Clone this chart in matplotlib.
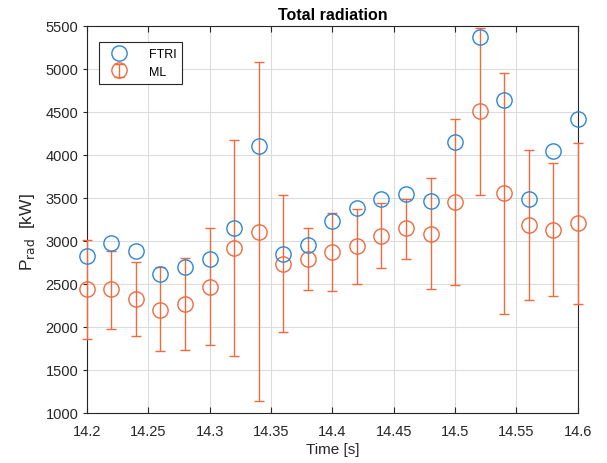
import matplotlib.pyplot as plt
import numpy as np

plt.rcParams['font.family'] = ['Liberation Sans', 'DejaVu Sans']

# time points [s]
t = np.array([14.20, 14.22, 14.24, 14.26, 14.28, 14.30, 14.32, 14.34, 14.36, 14.38, 14.40,
              14.42, 14.44, 14.46, 14.48, 14.50, 14.52, 14.54, 14.56, 14.58, 14.60])

# FTRI radiated power [kW]
p_ftri = np.array([2830, 2975, 2880, 2615, 2695, 2795, 3145, 4100, 2850, 2950, 3230,
                   3385, 3485, 3540, 3460, 4150, 5370, 4640, 3490, 4040, 4415])

# ML prediction [kW] with error bar ends
p_ml = np.array([2445, 2445, 2330, 2200, 2270, 2465, 2920, 3105, 2735, 2795, 2870,
                 2940, 3060, 3150, 3085, 3450, 4505, 3555, 3190, 3130, 3210])
ml_top = np.array([3015, 2885, 2755, 2695, 2805, 3145, 4175, 5085, 3530, 3150, 3325,
                   3375, 3440, 3490, 3735, 4420, 5475, 4950, 4055, 3910, 4140])
ml_bot = np.array([1860, 1980, 1895, 1715, 1735, 1785, 1660, 1135, 1935, 2425, 2415,
                   2500, 2690, 2795, 2440, 2485, 3530, 2155, 2310, 2355, 2270])

blue = '#2B87D5'
orange = '#F06A40'
txt = '#262626'

fig = plt.figure(figsize=(6.07, 4.64), dpi=100)
ax = fig.add_axes([0.143, 0.108, 0.809, 0.834])

ax.plot(t, p_ftri, 'o', mfc='none', mec=blue, ms=11, mew=1.0, label='FTRI',
        clip_on=False, zorder=4)
eb = ax.errorbar(t, p_ml, yerr=[p_ml - ml_bot, ml_top - p_ml], fmt='o', mfc='none',
                 mec=orange, ecolor=orange, ms=11, mew=1.0, elinewidth=1.0,
                 capsize=3.6, capthick=1.0, label='ML', zorder=3)
for art in eb.lines[0:1] + tuple(eb.lines[1]) + tuple(eb.lines[2]):
    art.set_clip_on(False)

ax.set_xlim(14.2, 14.6)
ax.set_ylim(1000, 5500)
ax.set_xticks(np.arange(14.2, 14.61, 0.05))
ax.set_xticklabels(['14.2', '14.25', '14.3', '14.35', '14.4', '14.45', '14.5', '14.55', '14.6'])
ax.set_yticks(np.arange(1000, 5501, 500))

ax.grid(True, color='#DCDCDC', linewidth=0.8)
ax.set_axisbelow(True)
ax.tick_params(axis='x', direction='in', length=4, colors=txt, labelsize=10.5, pad=8,
               top=True, labeltop=False)
ax.tick_params(axis='y', direction='out', length=3, colors=txt, labelsize=10.5, pad=3,
               right=False)
for s in ax.spines.values():
    s.set_color(txt)
    s.set_linewidth(0.8)

ax.set_title('Total radiation', fontsize=11.5, fontweight='bold', color='black', pad=5)
ax.set_xlabel('Time [s]', fontsize=11, color=txt, labelpad=3)
ax.set_ylabel('P$_{\\mathrm{rad}}$  [kW]', fontsize=12.5, color=txt)
ax.yaxis.set_label_coords(-0.102, 0.47)

leg = ax.legend(loc='upper left', bbox_to_anchor=(0.024, 0.959), borderaxespad=0,
                fontsize=9, fancybox=False, edgecolor=txt, framealpha=1,
                handlelength=2.3, handletextpad=1.2, borderpad=0.5, labelspacing=0.45)
leg.get_frame().set_linewidth(0.8)

fig.savefig('out.png', dpi=100)
